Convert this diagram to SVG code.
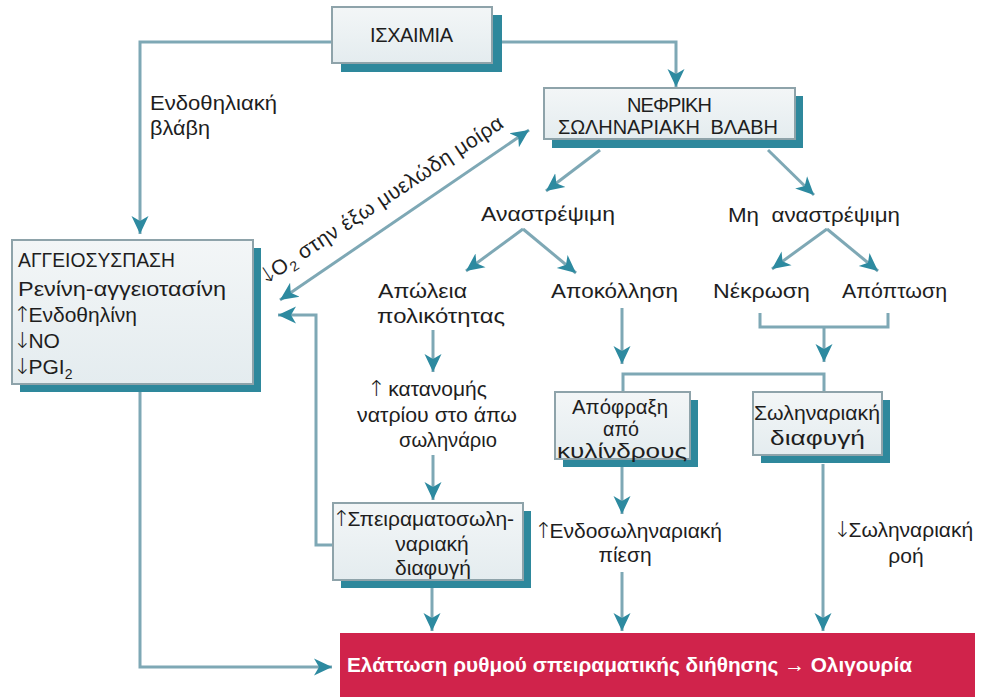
<svg xmlns="http://www.w3.org/2000/svg" width="981" height="699" viewBox="0 0 981 699">
<defs>
<linearGradient id="bf" x1="0" y1="0" x2="0" y2="1">
<stop offset="0" stop-color="#f3f6f7"/>
<stop offset="1" stop-color="#e4ecef"/>
</linearGradient>
<marker id="ah" markerUnits="userSpaceOnUse" markerWidth="20" markerHeight="20" viewBox="0 0 20 20" refX="18" refY="10" orient="auto-start-reverse">
<path d="M0,1.5 L18,10 L0,18.5 L5,10 z" fill="#2d8aa0"/>
</marker>
<style>
text{font-family:"Liberation Sans",Arial,sans-serif;font-size:21px;fill:#1e1e1e}
.cap{font-size:20px}
.bx{font-size:20px}
.m{text-anchor:middle}
.box{fill:url(#bf);stroke:#8ea3aa;stroke-width:2}
.sh{fill:#2e889c}
.c{fill:none;stroke:#7ea8b5;stroke-width:3}
.a{marker-end:url(#ah)}
.sub{font-size:14px}
.ar{font-family:"DejaVu Sans",sans-serif;font-size:22px;font-weight:200;letter-spacing:-3px}
.w{fill:#ffffff;font-weight:bold;font-size:21px}
</style>
</defs>
<rect width="981" height="699" fill="#ffffff"/>

<g id="connectors">
<path class="c a" d="M332,42 H140 V234"/>
<path class="c a" d="M492,42 H676 V87"/>
<path class="c a" d="M600,150 L546,191"/>
<path class="c a" d="M768,150 L814,195"/>
<path class="c a" d="M523,229 L466,271"/>
<path class="c a" d="M523,229 L576,273"/>
<path class="c a" d="M827,229 L772,269"/>
<path class="c a" d="M827,229 L878,271"/>
<path class="c a" d="M433,330 V372"/>
<path class="c a" d="M622,308 V364"/>
<path class="c" d="M760,313 V327 H888 V313"/>
<path class="c a" d="M824,327 V362"/>
<path class="c" d="M623,392 V374 H824 V392"/>
<path class="c a" d="M433,455 V500"/>
<path class="c a" d="M432,588 V631"/>
<path class="c a" d="M622,466 V514"/>
<path class="c a" d="M622,572 V631"/>
<path class="c a" d="M823,464 V631"/>
<path class="c a" d="M333,545 H316 V315 H278"/>
<path class="c a" d="M140,392 V667 H332"/>
<path class="c a" d="M280,300 L529,130" style="marker-start:url(#ah)"/>
<text transform="translate(264,286) rotate(-33.5)" style="letter-spacing:0.5px"><tspan class="ar">↓</tspan>O<tspan class="sub" dy="5">2</tspan><tspan dy="-5"> στην έξω μυελώδη μοίρα</tspan></text>
<text x="150" y="110" textLength="127" lengthAdjust="spacingAndGlyphs">Ενδοθηλιακή</text>
<text x="150" y="135" textLength="60" lengthAdjust="spacingAndGlyphs">βλάβη</text>
</g>

<g id="n-ischaimia">
<rect class="sh" x="341" y="15" width="161" height="57"/>
<rect class="box" x="332" y="7" width="160" height="56"/>
<text class="cap" x="370" y="42" textLength="83" lengthAdjust="spacing">ΙΣΧΑΙΜΙΑ</text>
</g>

<g id="n-nefriki">
<rect class="sh" x="552" y="96" width="251" height="52"/>
<rect class="box" x="544" y="88" width="251" height="51"/>
<text class="cap" x="627" y="112" textLength="85" lengthAdjust="spacing">ΝΕΦΡΙΚΗ</text>
<text class="cap" x="558" y="134" textLength="220" lengthAdjust="spacing">ΣΩΛΗΝΑΡΙΑΚΗ&#160; ΒΛΑΒΗ</text>
</g>

<g id="n-aggeiosyspasi">
<rect class="sh" x="20" y="248" width="241" height="144"/>
<rect class="box" x="12" y="240" width="241" height="144"/>
<text class="cap" x="18" y="267" textLength="157" lengthAdjust="spacingAndGlyphs">ΑΓΓΕΙΟΣΥΣΠΑΣΗ</text>
<text x="18" y="296" textLength="208" lengthAdjust="spacingAndGlyphs">Ρενίνη-αγγειοτασίνη</text>
<text x="13" y="322"><tspan class="ar">↑</tspan>Ενδοθηλίνη</text>
<text x="13" y="348"><tspan class="ar">↓</tspan>NO</text>
<text x="13" y="374"><tspan class="ar">↓</tspan>PGI<tspan class="sub" dy="5">2</tspan></text>
</g>

<g id="n-anastrepsimi">
<text x="481" y="221" textLength="134" lengthAdjust="spacingAndGlyphs">Αναστρέψιμη</text>
</g>
<g id="n-mi-anastrepsimi">
<text x="728" y="222" textLength="172" lengthAdjust="spacingAndGlyphs">Μη&#160; αναστρέψιμη</text>
</g>
<g id="n-apoleia">
<text x="378" y="298" textLength="89" lengthAdjust="spacingAndGlyphs">Απώλεια</text>
<text x="377" y="323" textLength="128" lengthAdjust="spacingAndGlyphs">πολικότητας</text>
</g>
<g id="n-apokollisi">
<text x="551" y="298" textLength="127" lengthAdjust="spacingAndGlyphs">Αποκόλληση</text>
</g>
<g id="n-nekrosi">
<text x="713" y="298" textLength="97" lengthAdjust="spacingAndGlyphs">Νέκρωση</text>
</g>
<g id="n-apoptosi">
<text x="842" y="298" textLength="105" lengthAdjust="spacingAndGlyphs">Απόπτωση</text>
</g>
<g id="n-katanomi">
<text x="367" y="396"><tspan class="ar">↑</tspan> κατανομής</text>
<text x="357" y="422" textLength="160" lengthAdjust="spacingAndGlyphs">νατρίου στο άπω</text>
<text x="399" y="447" textLength="98" lengthAdjust="spacingAndGlyphs">σωληνάριο</text>
</g>

<g id="n-apofraxi">
<rect class="sh" x="563" y="400" width="135" height="67"/>
<rect class="box" x="555" y="392" width="135" height="67"/>
<text class="bx" x="572" y="414" textLength="96" lengthAdjust="spacingAndGlyphs">Απόφραξη</text>
<text class="bx" x="603" y="436" textLength="36" lengthAdjust="spacingAndGlyphs">από</text>
<text class="bx" x="557" y="458" textLength="130" lengthAdjust="spacingAndGlyphs">κυλίνδρους</text>
</g>

<g id="n-sol-diafygi">
<rect class="sh" x="761" y="400" width="129" height="63"/>
<rect class="box" x="753" y="392" width="129" height="63"/>
<text class="bx" x="754" y="420" textLength="126" lengthAdjust="spacingAndGlyphs">Σωληναριακή</text>
<text class="bx" x="770" y="445" textLength="95" lengthAdjust="spacingAndGlyphs">διαφυγή</text>
</g>

<g id="n-speir">
<rect class="sh" x="341" y="511" width="190" height="77"/>
<rect class="box" x="333" y="503" width="190" height="77"/>
<text x="332" y="526"><tspan class="ar">↑</tspan>Σπειραματοσωλη-</text>
<text class="m" x="432" y="551">ναριακή</text>
<text class="m" x="433" y="575">διαφυγή</text>
</g>

<g id="n-endosol">
<text x="534" y="538"><tspan class="ar">↑</tspan>Ενδοσωληναριακή</text>
<text class="m" x="625" y="562">πίεση</text>
</g>

<g id="n-sol-roi">
<text x="833" y="537"><tspan class="ar">↓</tspan>Σωληναριακή</text>
<text class="m" x="906" y="563">ροή</text>
</g>

<g id="n-result">
<rect x="340" y="633" width="635" height="64" fill="#d0234b"/>
<text class="w" x="347" y="672" textLength="565" lengthAdjust="spacingAndGlyphs">Ελάττωση ρυθμού σπειραματικής διήθησης → Ολιγουρία</text>
</g>
</svg>
